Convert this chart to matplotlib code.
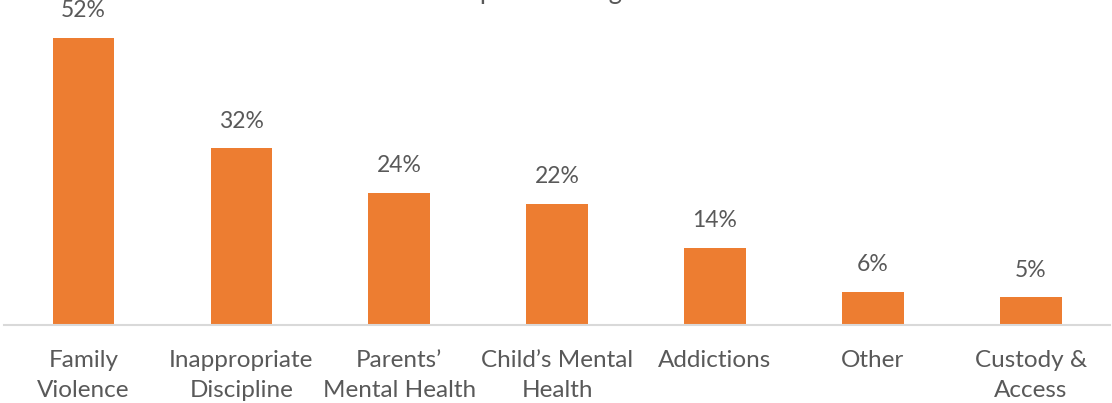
import matplotlib
matplotlib.use('Agg')
import matplotlib.pyplot as plt
import numpy as np

# presenting issues, share of cases
categories = ['Family\nViolence', 'Inappropriate\nDiscipline', 'Parents\u2019\nMental Health',
              'Child\u2019s Mental\nHealth', 'Addictions', 'Other', 'Custody &\nAccess']
shares = [52, 32, 24, 22, 14, 6, 5]
title = 'Top Presenting Issues'

bar_color = '#ED7D31'
text_color = '#595959'

plt.rcParams['font.family'] = ['Lato', 'DejaVu Sans']

fig = plt.figure(figsize=(11.12, 4.03), dpi=100)
ax = fig.add_axes([0.004, 0.1935, 0.994, 0.753])

x = np.arange(len(categories))
bars = ax.bar(x, shares, width=0.39, color=bar_color, zorder=2)

for xi, v in zip(x, shares):
    ax.annotate(f'{v}%', (xi, v), xytext=(0, 12), textcoords='offset points',
                ha='center', va='bottom', fontsize=16.5, color=text_color)

ax.set_xlim(-0.5, len(categories) - 0.5)
ax.set_ylim(0, 55)
ax.set_xticks(x)
ax.set_xticklabels(categories, fontsize=17.5, color=text_color, linespacing=1.5)
ax.tick_params(axis='x', length=0, pad=18)
ax.set_yticks([])
for side in ['top', 'right', 'left']:
    ax.spines[side].set_visible(False)
ax.spines['bottom'].set_color('#D9D9D9')
ax.spines['bottom'].set_linewidth(1.5)

# chart title sits just above the top edge
fig.text(0.516, 1.003, title, ha='center', va='baseline', fontsize=18.5,
         color=text_color)

fig.savefig('out.png', dpi=100)
